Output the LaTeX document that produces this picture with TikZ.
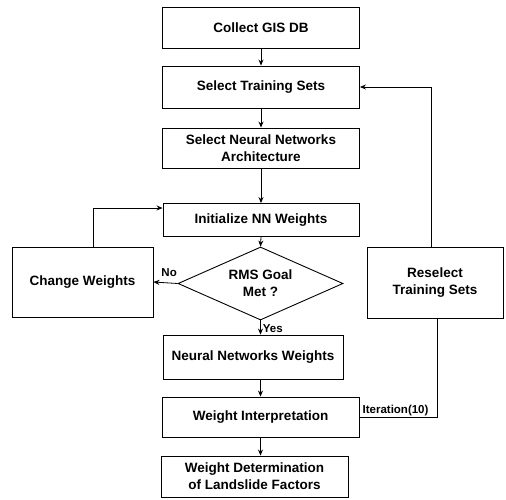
\documentclass[tikz,border=0pt]{standalone}
\usepackage{fontspec}
\setmainfont{Liberation Sans}
\usetikzlibrary{shapes.geometric,arrows.meta}
\begin{document}
\begin{tikzpicture}[x=1pt,y=-1pt,
  box/.style={draw, line width=0.9pt, rectangle, align=center, inner sep=2pt,
    font=\bfseries\fontsize{13.5}{17}\selectfont},
  dia/.style={draw, line width=0.9pt, diamond, align=center, inner sep=0pt,
    aspect=2.26, minimum width=165pt, minimum height=73pt,
    font=\bfseries\fontsize{13.5}{17}\selectfont},
  arr/.style={line width=0.8pt, -{Stealth[length=6pt,width=5pt]}},
  ln/.style={line width=0.8pt},
  lbl/.style={font=\bfseries\fontsize{11.5}{13}\selectfont, inner sep=1pt}]
\useasboundingbox (0,0) rectangle (506,499);
\node[box, minimum width=197pt, minimum height=41pt] (collect) at (261,28) {Collect GIS DB};
\node[box, minimum width=197pt, minimum height=42pt] (select) at (261,87) {Select Training Sets};
\node[box, minimum width=197pt, minimum height=40pt] (arch) at (261,148) {Select Neural Networks\\Architecture};
\node[box, minimum width=196pt, minimum height=33pt] (init) at (261,220) {Initialize NN Weights};
\node[dia] (rms) at (260.5,283.5) {RMS Goal\\Met ?};
\node[box, minimum width=141pt, minimum height=70pt] (change) at (82.5,282) {Change Weights};
\node[box, minimum width=136pt, minimum height=71pt] (resel) at (435,282.5) {Reselect\\Training Sets};
\node[box, minimum width=180pt, minimum height=44pt] (nnw) at (253,357) {Neural Networks Weights};
\node[box, minimum width=197pt, minimum height=40pt] (interp) at (260.5,417) {Weight Interpretation};
\node[box, minimum width=187pt, minimum height=41pt] (determ) at (254.5,476.5) {Weight Determination\\of Landslide Factors};

\draw[arr] (collect.south) -- (select.north);
\draw[arr] (select.south) -- (arch.north);
\draw[arr] (arch.south) -- (init.north);
\draw[arr] (init.south) -- (rms.north);
\draw[arr] (rms.west) -- node[lbl, above, pos=0.35, yshift=5pt] (no) {No} (change.east);
\draw[arr] ([xshift=10.5pt]change.north) |- ([yshift=12pt]init.west);
\draw[arr] (rms.south) -- node[lbl, right, pos=0.55, xshift=1pt] (yes) {Yes} (rms.south |- nnw.north);
\draw[arr] (nnw.south -| interp.north) -- (interp.north);
\draw[arr] (interp.south) -- (interp.south |- determ.north);
\draw[arr] ([xshift=-4pt]resel.north) |- (select.east);
\draw[ln] (interp.east) -| ([xshift=2pt]resel.south);
\node[lbl, anchor=south west] (iter) at ([xshift=2pt]interp.east) {Iteration(10)};
\end{tikzpicture}
\end{document}
